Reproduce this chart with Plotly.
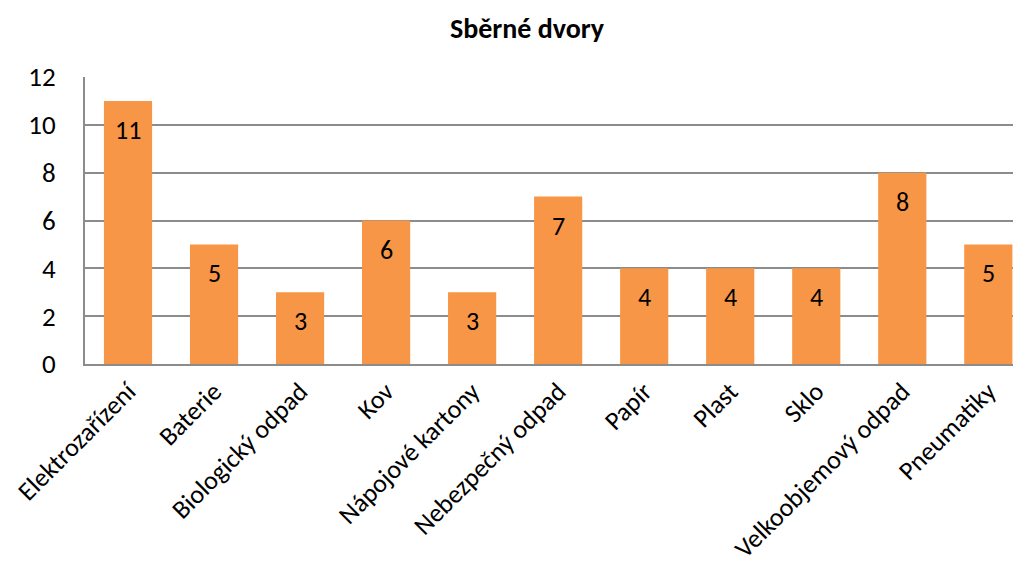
import plotly.graph_objects as go

categories = ["Elektrozařízení", "Baterie", "Biologický odpad", "Kov", "Nápojové kartony",
              "Nebezpečný odpad", "Papír", "Plast", "Sklo", "Velkoobjemový odpad", "Pneumatiky"]
values = [11, 5, 3, 6, 3, 7, 4, 4, 4, 8, 5]
y_ticks = [0, 2, 4, 6, 8, 10, 12]

font = "Carlito, Lato, sans-serif"
FS = 26

fig = go.Figure(go.Bar(
    x=categories, y=values,
    marker=dict(color="#F79646", line=dict(width=0)),
    hoverinfo="x+y",
))

for c, v in zip(categories, values):
    fig.add_annotation(x=c, y=v, text=str(v), showarrow=False, yanchor="middle",
                       yshift=-29, font=dict(size=26, family=font, color="black"))

fig.update_layout(
    width=1013, height=558,
    margin=dict(l=77, r=0, t=69, b=202, autoexpand=False),
    paper_bgcolor="white", plot_bgcolor="white",
    bargap=0.44,
    showlegend=False,
    title=dict(text="<b>Sběrné dvory</b>", x=(527 - 8) / 1013, xanchor="center", xref="container",
               y=1 - 20 / 558, yanchor="middle", font=dict(size=28, family=font, color="black")),
    font=dict(family=font, size=FS, color="black"),
)
fig.update_xaxes(
    type="category", range=[-0.5, 10.38], tickangle=-45, automargin=False,
    showline=True, linecolor="#8C8C8C", linewidth=2,
    ticks="outside", ticklen=0, showgrid=False,
    tickfont=dict(size=FS, family=font, color="black"),
)
fig.update_yaxes(
    range=[0, 12], tickvals=y_ticks, showgrid=True, gridcolor="#8C8C8C", gridwidth=1.5,
    showline=True, linecolor="#8C8C8C", linewidth=2, zeroline=False, automargin=False,
    ticks="", tickfont=dict(size=27, family=font, color="black"), ticklabelstandoff=22,
)

fig.write_html("out.html")
